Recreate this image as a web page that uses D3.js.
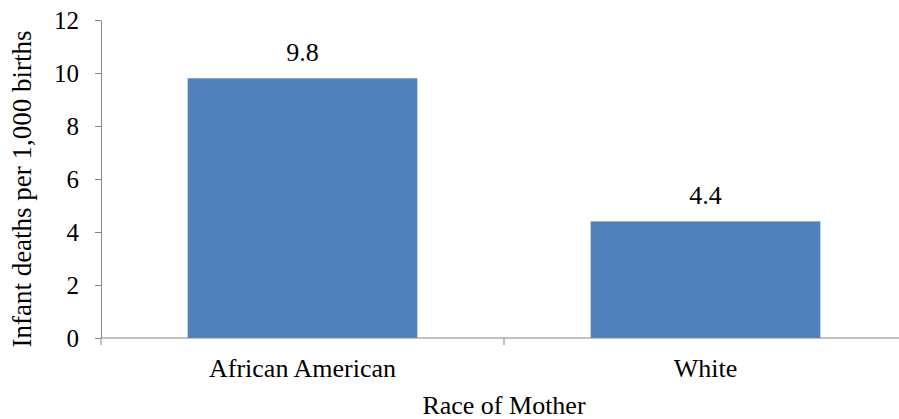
<!DOCTYPE html>
<html>
<head>
<meta charset="utf-8">
<script src="https://cdn.jsdelivr.net/npm/d3@7"></script>
<style>
  body { margin: 0; background: #fff; }
</style>
</head>
<body>
<svg id="chart" width="899" height="419"></svg>
<script>
const categories = ["African American", "White"];
const values = [9.8, 4.4];
const yTicks = [0, 2, 4, 6, 8, 10, 12];

const serif = "'Liberation Serif', 'Times New Roman', serif";
const svg = d3.select("#chart");
const plotLeft = 101, plotRight = 907, plotTop = 20, plotBottom = 338;

const x = d3.scaleBand().domain(categories).range([plotLeft, plotRight]).paddingInner(0.43).paddingOuter(0.215);
const y = d3.scaleLinear().domain([0, 12]).range([plotBottom, plotTop]);

// bars
svg.selectAll("rect.bar")
  .data(values)
  .enter().append("rect")
  .attr("class", "bar")
  .attr("x", (d, i) => x(categories[i]))
  .attr("y", d => y(d))
  .attr("width", x.bandwidth())
  .attr("height", d => y(0) - y(d))
  .style("fill", "#4f81bd");

// value labels
svg.selectAll("text.val")
  .data(values)
  .enter().append("text")
  .attr("class", "val")
  .attr("x", (d, i) => x(categories[i]) + x.bandwidth() / 2)
  .attr("y", d => y(d) - 17)
  .attr("text-anchor", "middle")
  .style("font-family", serif)
  .style("font-size", "26px")
  .text(d => d.toFixed(1));

// y axis
const yAxis = svg.append("g")
  .attr("transform", `translate(${plotLeft},0)`)
  .call(d3.axisLeft(y).tickValues(yTicks).tickSize(6).tickSizeOuter(0).tickPadding(16));
yAxis.select(".domain").attr("stroke", "#868686");
yAxis.selectAll(".tick line").attr("stroke", "#868686");
yAxis.selectAll(".tick text")
  .style("font-family", serif)
  .style("font-size", "25px")
  .style("fill", "#000")
  .attr("dy", "0.33em");

// x axis line with boundary ticks
svg.append("line")
  .attr("x1", plotLeft).attr("x2", 899)
  .attr("y1", plotBottom).attr("y2", plotBottom)
  .attr("stroke", "#868686");
const step = x.step();
const boundaries = [plotLeft, plotLeft + step];
svg.selectAll("line.xtick")
  .data(boundaries)
  .enter().append("line")
  .attr("class", "xtick")
  .attr("x1", d => d).attr("x2", d => d)
  .attr("y1", plotBottom).attr("y2", plotBottom + 7)
  .attr("stroke", "#868686");

svg.selectAll("text.cat")
  .data(categories)
  .enter().append("text")
  .attr("class", "cat")
  .attr("x", d => x(d) + x.bandwidth() / 2)
  .attr("y", 377)
  .attr("text-anchor", "middle")
  .style("font-family", serif)
  .style("font-size", "26px")
  .text(d => d);

// axis titles
svg.append("text")
  .attr("x", 504)
  .attr("y", 414)
  .attr("text-anchor", "middle")
  .style("font-family", serif)
  .style("font-size", "26px")
  .text("Race of Mother");

svg.append("text")
  .attr("transform", "translate(31,189) rotate(-90)")
  .attr("text-anchor", "middle")
  .style("font-family", serif)
  .style("font-size", "27px")
  .text("Infant deaths per 1,000 births");
</script>
</body>
</html>
